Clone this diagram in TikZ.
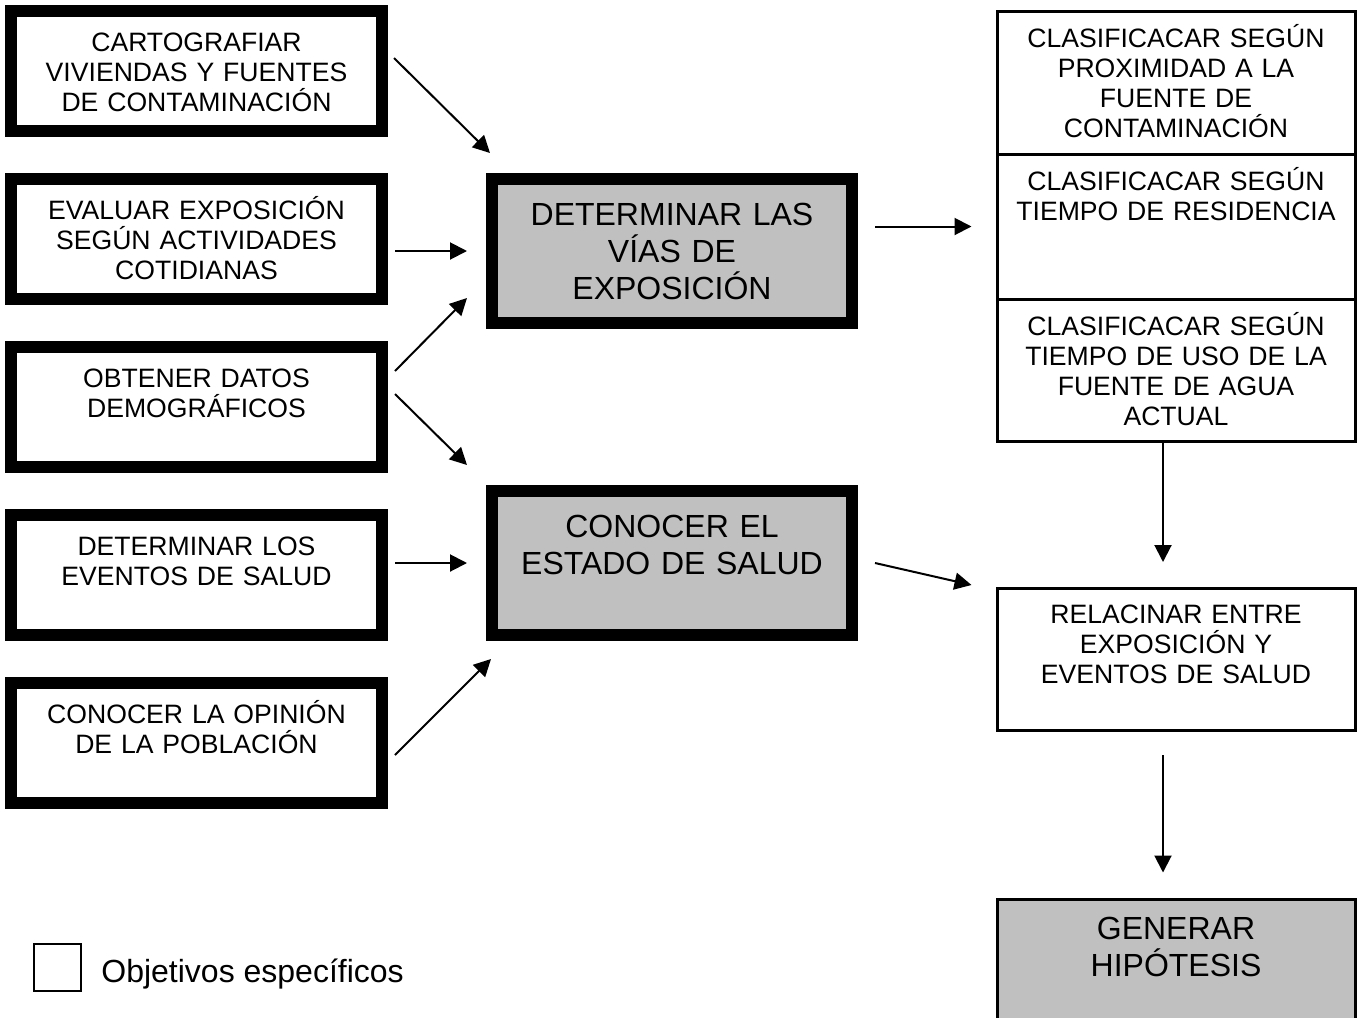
\documentclass[tikz,border=0pt]{standalone}
\usepackage{fontspec}
\setmainfont{Liberation Sans}
\usepackage{tikz}
\usetikzlibrary{arrows.meta}

\definecolor{cajagris}{RGB}{192,192,192}

\tikzset{
  obj/.style={draw, line width=6pt, minimum width=185.5pt, minimum height=60pt, inner sep=0},
  meta/.style={draw, line width=6pt, fill=cajagris, minimum width=180pt, minimum height=72pt, inner sep=0},
  paso/.style={draw, line width=1.5pt, minimum width=179pt, inner sep=0},
  txt/.style={anchor=base, inner sep=0, text width=176pt, align=center, font=\fontsize{13.3}{15}\selectfont},
  txtg/.style={txt, font=\fontsize{16}{18.7}\selectfont},
  arr/.style={line width=1pt, -{Triangle[length=8.5pt,width=8.5pt]}}
}

\begin{document}
\begin{tikzpicture}[x=0.5pt, y=-0.5pt]
  \useasboundingbox (0,0) rectangle (1361,1018);
  \clip (0,0) rectangle (1361,1018);

  % objetivos especificos
  \node[obj] (carto) at (196.5,71) {};
  \node[obj] (evaluar) at (196.5,239) {};
  \node[obj] (obtener) at (196.5,407) {};
  \node[obj] (eventos) at (196.5,575) {};
  \node[obj] (opinion) at (196.5,743) {};
  \node[txt] (carto-t) at ([yshift=-23.3pt]carto.north) {CARTOGRAFIAR\\VIVIENDAS Y FUENTES\\DE CONTAMINACIÓN};
  \node[txt] (evaluar-t) at ([yshift=-23.3pt]evaluar.north) {EVALUAR EXPOSICIÓN\\SEGÚN ACTIVIDADES\\COTIDIANAS};
  \node[txt] (obtener-t) at ([yshift=-23.3pt]obtener.north) {OBTENER DATOS\\DEMOGRÁFICOS};
  \node[txt] (eventos-t) at ([yshift=-23.3pt]eventos.north) {DETERMINAR LOS\\EVENTOS DE SALUD};
  \node[txt] (opinion-t) at ([yshift=-23.3pt]opinion.north) {CONOCER LA OPINIÓN\\DE LA POBLACIÓN};

  % objetivos generales
  \node[meta] (vias) at (672,251) {};
  \node[meta] (salud) at (672,563) {};
  \node[txtg] (vias-t) at ([yshift=-26pt]vias.north) {DETERMINAR LAS\\VÍAS DE\\EXPOSICIÓN};
  \node[txtg] (salud-t) at ([yshift=-26pt]salud.north) {CONOCER EL\\ESTADO DE SALUD};

  % columna derecha
  \node[paso, minimum height=71.5pt] (proxim) at (1176,82.5) {};
  \node[paso, minimum height=72.5pt] (resid) at (1176,226.5) {};
  \node[paso, minimum height=71pt] (uso) at (1176,370) {};
  \node[paso, minimum height=71pt] (relac) at (1176,659.5) {};
  \node[paso, fill=cajagris, minimum height=80pt] (hipot) at (1176,979) {};
  \node[txt] (proxim-t) at ([yshift=-19pt]proxim.north) {CLASIFICACAR SEGÚN\\PROXIMIDAD A LA\\FUENTE DE\\CONTAMINACIÓN};
  \node[txt] (resid-t) at ([yshift=-19pt]resid.north) {CLASIFICACAR SEGÚN\\TIEMPO DE RESIDENCIA};
  \node[txt] (uso-t) at ([yshift=-19pt]uso.north) {CLASIFICACAR SEGÚN\\TIEMPO DE USO DE LA\\FUENTE DE AGUA\\ACTUAL};
  \node[txt] (relac-t) at ([yshift=-18pt]relac.north) {RELACINAR ENTRE\\EXPOSICIÓN Y\\EVENTOS DE SALUD};
  \node[txtg] (hipot-t) at ([yshift=-21pt]hipot.north) {GENERAR\\HIPÓTESIS};

  \draw[arr] ([shift={(6,-13)}]carto.east) -- ([shift={(4,-20)}]vias.north west);
  \draw[arr, shorten <=3.5pt, shorten >=9.5pt] (evaluar.east |- vias.west) -- (vias.west);
  \draw[arr] ([shift={(7,-36)}]obtener.east) -- ([shift={(-19,-31)}]vias.south west);
  \draw[arr] ([shift={(7,-13)}]obtener.east) -- ([shift={(-19,-20)}]salud.north west);
  \draw[arr, shorten <=3.5pt, shorten >=9.5pt] (eventos.east |- salud.west) -- (salud.west);
  \draw[arr] ([shift={(7,12)}]opinion.east) -- ([shift={(5,18)}]salud.south west);
  \draw[arr, shorten <=8.5pt, shorten >=12pt] (vias.east |- resid.west) -- (resid.west);
  \draw[arr] ([xshift=8.5pt]salud.east) -- ([shift={(-24,-2)}]relac.north west);
  \draw[arr, shorten >=12.5pt] ([xshift=-6.5pt]uso.south) -- ([xshift=-6.5pt]relac.north);
  \draw[arr, shorten <=11.5pt, shorten >=12.5pt] ([xshift=-6.5pt]relac.south) -- ([xshift=-6.5pt]hipot.north);

  % leyenda
  \node[draw, line width=1pt, minimum size=23.5pt, inner sep=0] (leyenda) at (57.5,967.5) {};
  \node[anchor=base west, inner sep=0, font=\fontsize{16}{19}\selectfont] (leyenda-t) at (101,982) {Objetivos específicos};
\end{tikzpicture}
\end{document}
